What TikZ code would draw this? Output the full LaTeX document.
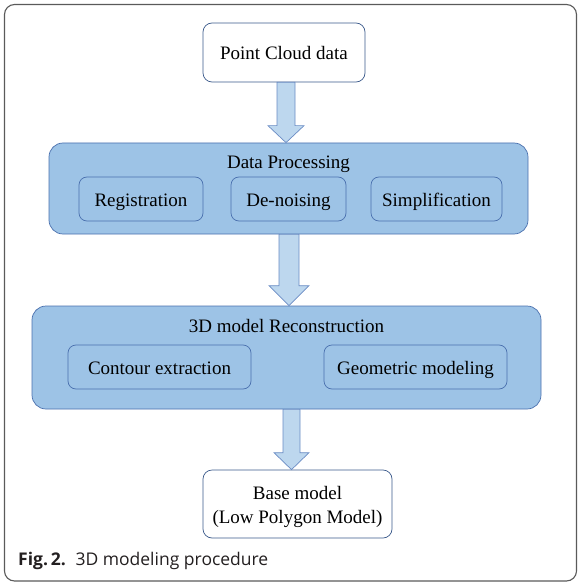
\documentclass[tikz,border=0pt]{standalone}
\usepackage{fontspec}
\setmainfont{Liberation Serif}
\newfontfamily\capfont{Open Sans}
\usetikzlibrary{calc}
\definecolor{boxfill}{HTML}{9DC3E6}
\definecolor{boxline}{HTML}{4A70AE}
\definecolor{arrfill}{HTML}{BDD7EE}
\definecolor{arrline}{HTML}{6A8CC4}
\definecolor{framecol}{HTML}{5A5A5A}
\definecolor{captext}{HTML}{231F20}
\tikzset{
  frame/.style={draw=framecol, line width=1.1pt, rounded corners=10pt},
  endbox/.style={draw=boxline!80!black, fill=white, line width=0.7pt, rounded corners=9pt, inner sep=0pt, align=center, font=\fontsize{19}{24}\selectfont},
  groupbox/.style={draw=boxline, fill=boxfill, line width=0.7pt, rounded corners=14pt, inner sep=0pt},
  subbox/.style={draw=boxline, fill=boxfill, line width=0.7pt, rounded corners=8pt, inner sep=0pt, text height=15pt, text depth=0pt, font=\fontsize{19}{23}\selectfont},
  grouptitle/.style={inner sep=0pt, anchor=base, font=\fontsize{19}{23}\selectfont},
  fatarrow/.style={draw=arrline, fill=arrfill, line width=0.7pt, line join=miter},
  caption/.style={inner sep=0pt, anchor=base west, text=captext, font=\capfont\fontsize{17.5}{20}\selectfont}
}
% #1 from node, #2 to node, #3 x-centre coordinate, #4 shaft half width, #5 head half width, #6 head length
\newcommand\myfatarrow[6]{%
  \coordinate (fa-s) at (#1.south -| #3);
  \coordinate (fa-t) at (#2.north -| #3);
  \draw[fatarrow] ($(fa-s)+(-#4,0)$) -- ($(fa-t)+(-#4,-#6)$) -- ($(fa-t)+(-#5,-#6)$) -- (fa-t)
     -- ($(fa-t)+(#5,-#6)$) -- ($(fa-t)+(#4,-#6)$) -- ($(fa-s)+(#4,0)$) -- cycle;
}
\begin{document}
\begin{tikzpicture}[x=1pt,y=-1pt]
\useasboundingbox (0,0) rectangle (578,585);
\draw[frame] (4.5,4.5) rectangle (576.5,581);

\node[endbox, minimum width=162pt, minimum height=59pt, text height=15pt, text depth=0pt] (pcd) at (284,52.5) {Point Cloud data};

\node[groupbox, minimum width=479pt, minimum height=91pt] (dp) at (288.5,188.5) {};
\node[grouptitle] (dpt) at (288.5,169) {Data Processing};
\node[subbox, minimum width=124pt, minimum height=44pt] (reg) at (141,199) {Registration};
\node[subbox, minimum width=115pt, minimum height=44pt] (den) at (288.5,199) {De-noising};
\node[subbox, minimum width=131pt, minimum height=44pt] (simp) at (436.5,199) {Simplification};

\node[groupbox, minimum width=509pt, minimum height=103pt] (rec) at (286.5,357.5) {};
\node[grouptitle] (rect) at (286.5,332) {3D model Reconstruction};
\node[subbox, minimum width=183pt, minimum height=44pt] (cont) at (159.5,367) {Contour extraction};
\node[subbox, minimum width=183pt, minimum height=44pt] (geo) at (415.5,367) {Geometric modeling};

\node[endbox, minimum width=189pt, minimum height=68pt, text height=38pt, text depth=0pt] (base) at (297.5,504) {Base model\\(Low Polygon Model)};

\coordinate (ax1) at (286,0);
\coordinate (ax2) at (289,0);
\coordinate (ax3) at (291.5,0);
\myfatarrow{pcd}{dp}{ax1}{9}{18}{17}
\myfatarrow{dp}{rec}{ax2}{10}{20}{20}
\myfatarrow{rec}{base}{ax3}{8.5}{17.5}{17}

\node[caption] (cap) at (18,565) {\textbf{Fig.\,2.}\hspace{0.55em}3D modeling procedure};
\end{tikzpicture}
\end{document}
